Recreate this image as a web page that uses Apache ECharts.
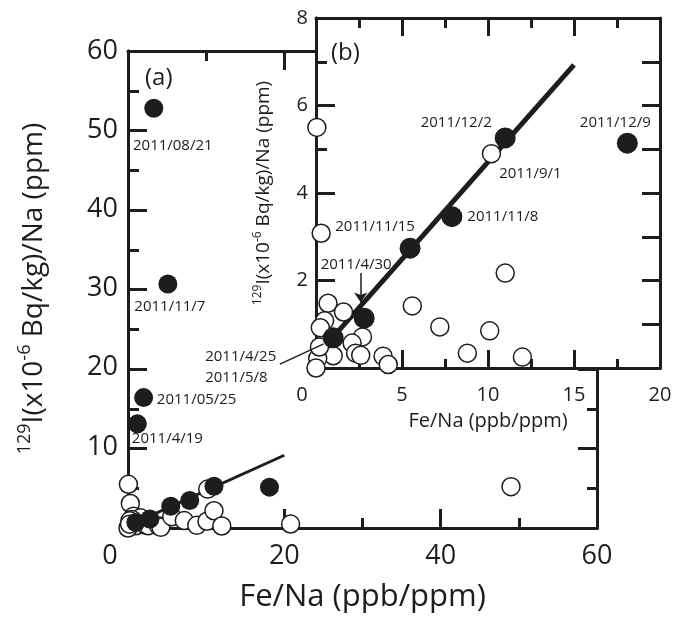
<!DOCTYPE html>
<html>
<head>
<meta charset="utf-8">
<script src="https://cdn.jsdelivr.net/npm/echarts@6/dist/echarts.min.js"></script>
<style>
  html, body { margin: 0; padding: 0; background: #fff; }
  #chart { width: 675px; height: 618px; }
</style>
</head>
<body>
<div id="chart"></div>
<script>
// Fe/Na (ppb/ppm) vs 129I/Na, filled = labelled samples, open = others
const filledPts = [
  [3.3, 52.8, '2011/08/21'],
  [5.1, 30.7, '2011/11/7'],
  [2.0, 16.4, '2011/05/25'],
  [1.2, 13.1, '2011/4/19'],
  [18.1, 5.14, '2011/12/9'],
  [11.0, 5.26, '2011/12/2'],
  [7.9, 3.46, '2011/11/8'],
  [5.47, 2.74, '2011/11/15'],
  [2.8, 1.14, '2011/4/30'],
  [1.0, 0.69, '2011/4/25'],
]
const openPts = [
  [0.05, 5.5], [0.3, 3.08], [0.7, 1.48], [1.6, 1.28], [0.5, 1.08], [0.25, 0.92],
  [2.7, 0.71], [2.1, 0.57], [1.0, 0.28], [0.1, 0.22], [0.0, 0.0], [0.2, 0.48],
  [2.3, 0.34], [2.6, 0.29], [3.9, 0.27], [4.2, 0.08], [5.6, 1.42], [7.2, 0.94],
  [8.8, 0.34], [10.1, 0.85], [11.0, 2.17], [12.0, 0.25], [10.2, 4.9, '2011/9/1'],
  [20.8, 0.5], [49.0, 5.2],
]
const fitMain = [[0.5, 0.49], [20, 9.15]]
const fitInset = [[0.5, 0.49], [15, 6.93]]
const arrow430 = [[2.6, 2.17], [2.6, 1.5]]
const leader425 = [[-2.1, 0.09], [0.45, 0.55]]
const mainXTicks = [0, 60, 20]
const mainYTicks = [0, 60, 10]
const insetXTicks = [0, 20, 5]
const insetYTicks = [0, 8, 2]

const FONT = '"Open Sans", sans-serif'
const INK = '#1e1c1d'

// label placement for annotated points (px offsets from the marker)
const mainLabels = {
  '2011/08/21': { offset: [19, 37] },
  '2011/11/7': { offset: [2, 23] },
  '2011/05/25': { offset: [53, 2] },
  '2011/4/19': { offset: [30, 15] },
}
const insetLabels = {
  '2011/12/9': { offset: [-12, -20] },
  '2011/12/2': { offset: [-49, -15] },
  '2011/9/1': { offset: [39, 20] },
  '2011/11/8': { offset: [51, 0] },
  '2011/11/15': { offset: [-35, -21] },
  '2011/4/30': { offset: [-8, -53] },
  '2011/4/25': { offset: [-128, 29], align: 'left', text: '2011/4/25\n2011/5/8' },
}

function withLabels(pts, labels) {
  return pts.map((p) => {
    const cfg = p[2] && labels[p[2]]
    if (!cfg) return { value: [p[0], p[1]] }
    return {
      value: [p[0], p[1]],
      label: {
        show: true,
        position: 'inside',
        offset: cfg.offset,
        align: cfg.align || 'center',
        verticalAlign: 'middle',
        formatter: cfg.text || p[2],
        fontFamily: FONT,
        fontSize: 15,
        lineHeight: 21,
        color: INK,
      },
    }
  })
}

// frame axes: line + inward ticks, no text
function frameAxis(gridIndex, pos, ticks, tick, minor, z) {
  const [min, max, interval] = ticks
  return {
    type: 'value', gridIndex, position: pos, min, max, interval, z,
    axisLine: { show: true, onZero: false, lineStyle: { color: INK, width: 3 } },
    axisTick: { show: true, inside: true, length: tick, lineStyle: { color: INK, width: 3 } },
    minorTick: { show: true, splitNumber: 2, length: minor, lineStyle: { color: INK, width: 3 } },
    splitLine: { show: false },
    axisLabel: { show: false },
  }
}

// text axes: tick labels and axis name only, sitting on a twin grid
function textAxis(gridIndex, pos, ticks, extra) {
  const [min, max, interval] = ticks
  return Object.assign({
    type: 'value', gridIndex, position: pos, min, max, interval,
    axisLine: { show: false },
    axisTick: { show: false },
    minorTick: { show: false },
    splitLine: { show: false },
  }, extra)
}

const chart = echarts.init(document.getElementById('chart'))

const ySup = (size) => ({
  n: { fontFamily: FONT, fontSize: size, color: INK, lineHeight: size * 1.3 },
  s: { fontFamily: FONT, fontSize: Math.round(size * 0.64), color: INK, verticalAlign: 'top', lineHeight: size * 0.75 },
})
const yName = '{s|129}{n|I(x10}{s|-6}{n| Bq/kg)/Na (ppm)}'
const zeroLeft = (size, pad) => ({
  show: true, fontFamily: FONT, fontSize: size, color: INK,
  formatter: (v) => (v === 0 ? '{z|0}' : String(v)),
  rich: { z: { fontFamily: FONT, fontSize: size, color: INK, padding: [0, pad, 0, 0] } },
})

const mainRect = { left: 128, top: 51, width: 469, height: 477 }
const insetRect = { left: 316, top: 18, width: 344, height: 350 }

chart.setOption({
  animation: false,
  backgroundColor: '#fff',
  title: [
    { text: '(a)', left: 140, top: 61, textStyle: { fontFamily: FONT, fontSize: 24, fontWeight: 'normal', color: INK } },
    { text: '(b)', left: 326, top: 36, z: 10, textStyle: { fontFamily: FONT, fontSize: 24, fontWeight: 'normal', color: INK } },
  ],
  grid: [
    Object.assign({}, mainRect),
    Object.assign({ show: true, backgroundColor: '#fff', borderWidth: 0, z: 5 }, insetRect),
    Object.assign({}, mainRect),
    Object.assign({ z: 6 }, insetRect),
    Object.assign({}, mainRect),
    Object.assign({ z: 6 }, insetRect),
  ],
  xAxis: [
    frameAxis(0, 'bottom', mainXTicks, 19, 10, 0),
    frameAxis(0, 'top', mainXTicks, 19, 10, 0),
    frameAxis(1, 'bottom', insetXTicks, 18, 9, 6),
    frameAxis(1, 'top', insetXTicks, 18, 10, 6),
    textAxis(2, 'bottom', mainXTicks, {
      name: 'Fe/Na (ppb/ppm)', nameLocation: 'middle', nameGap: 56,
      nameTextStyle: { fontFamily: FONT, fontSize: 31, color: INK },
      axisLabel: Object.assign(zeroLeft(27, 36), { margin: 17 }),
    }),
    textAxis(3, 'bottom', insetXTicks, {
      z: 6,
      name: 'Fe/Na (ppb/ppm)', nameLocation: 'middle', nameGap: 43,
      nameTextStyle: { fontFamily: FONT, fontSize: 20, color: INK },
      axisLabel: Object.assign(zeroLeft(20, 28), { margin: 17 }),
    }),
    frameAxis(4, 'bottom', mainXTicks, 19, 10, 0),
    frameAxis(5, 'bottom', insetXTicks, 18, 9, 6),
  ],
  yAxis: [
    frameAxis(0, 'left', mainYTicks, 19, 11, 0),
    frameAxis(0, 'right', mainYTicks, 19, 10, 0),
    frameAxis(1, 'left', insetYTicks, 19, 11, 6),
    frameAxis(1, 'right', insetYTicks, 18, 18, 6),
    textAxis(2, 'left', mainYTicks, {
      name: yName, nameLocation: 'middle', nameGap: 76, nameRotate: 90,
      nameTextStyle: { fontFamily: FONT, fontSize: 28, color: INK, rich: ySup(28) },
      axisLabel: {
        show: true, margin: 10, fontFamily: FONT, fontSize: 27, color: INK,
        formatter: (v) => (v === 0 ? '' : String(v)),
      },
    }),
    textAxis(3, 'left', insetYTicks, {
      z: 6,
      name: yName, nameLocation: 'middle', nameGap: 40, nameRotate: 90,
      nameTextStyle: { fontFamily: FONT, fontSize: 19, color: INK, rich: ySup(19) },
      axisLabel: {
        show: true, margin: 8, fontFamily: FONT, fontSize: 20, color: INK,
        formatter: (v) => (v === 0 ? '' : String(v)),
      },
    }),
    frameAxis(4, 'left', mainYTicks, 19, 11, 0),
    frameAxis(5, 'left', insetYTicks, 19, 11, 6),
  ],
  series: [
    {
      type: 'line', xAxisIndex: 0, yAxisIndex: 0, data: fitMain, z: 2,
      symbol: 'none', lineStyle: { color: INK, width: 3 },
    },
    {
      type: 'scatter', xAxisIndex: 0, yAxisIndex: 0, z: 3, symbolSize: 18,
      data: openPts.map((p) => [p[0], p[1]]),
      itemStyle: { color: '#fff', borderColor: INK, borderWidth: 1.5, opacity: 1 },
    },
    {
      type: 'scatter', xAxisIndex: 0, yAxisIndex: 0, z: 4, symbolSize: 19,
      data: withLabels(filledPts, mainLabels),
      itemStyle: { color: INK, opacity: 1 },
    },
    {
      type: 'line', xAxisIndex: 2, yAxisIndex: 2, data: fitInset, z: 7,
      symbol: 'none', lineStyle: { color: INK, width: 5 },
    },
    {
      type: 'scatter', xAxisIndex: 2, yAxisIndex: 2, z: 8, symbolSize: 18, clip: false,
      data: withLabels(openPts.filter((p) => p[0] <= 20 && p[1] <= 8), insetLabels),
      itemStyle: { color: '#fff', borderColor: INK, borderWidth: 1.5, opacity: 1 },
    },
    {
      type: 'scatter', xAxisIndex: 2, yAxisIndex: 2, z: 9, symbolSize: 21, clip: false,
      data: withLabels(filledPts.filter((p) => p[0] <= 20 && p[1] <= 8), insetLabels),
      itemStyle: { color: INK, opacity: 1 },
    },
    {
      type: 'lines', coordinateSystem: 'cartesian2d', xAxisIndex: 2, yAxisIndex: 2, z: 9, clip: false,
      symbol: ['none', 'none'],
      lineStyle: { color: INK, width: 1.5, opacity: 1 },
      data: [{ coords: leader425 }],
    },
    {
      type: 'lines', coordinateSystem: 'cartesian2d', xAxisIndex: 2, yAxisIndex: 2, z: 9, clip: false,
      symbol: ['none', 'arrow'], symbolSize: [7, 10],
      lineStyle: { color: INK, width: 1.5, opacity: 1 },
      data: [{ coords: arrow430 }],
    },
  ],
})
</script>
</body>
</html>
